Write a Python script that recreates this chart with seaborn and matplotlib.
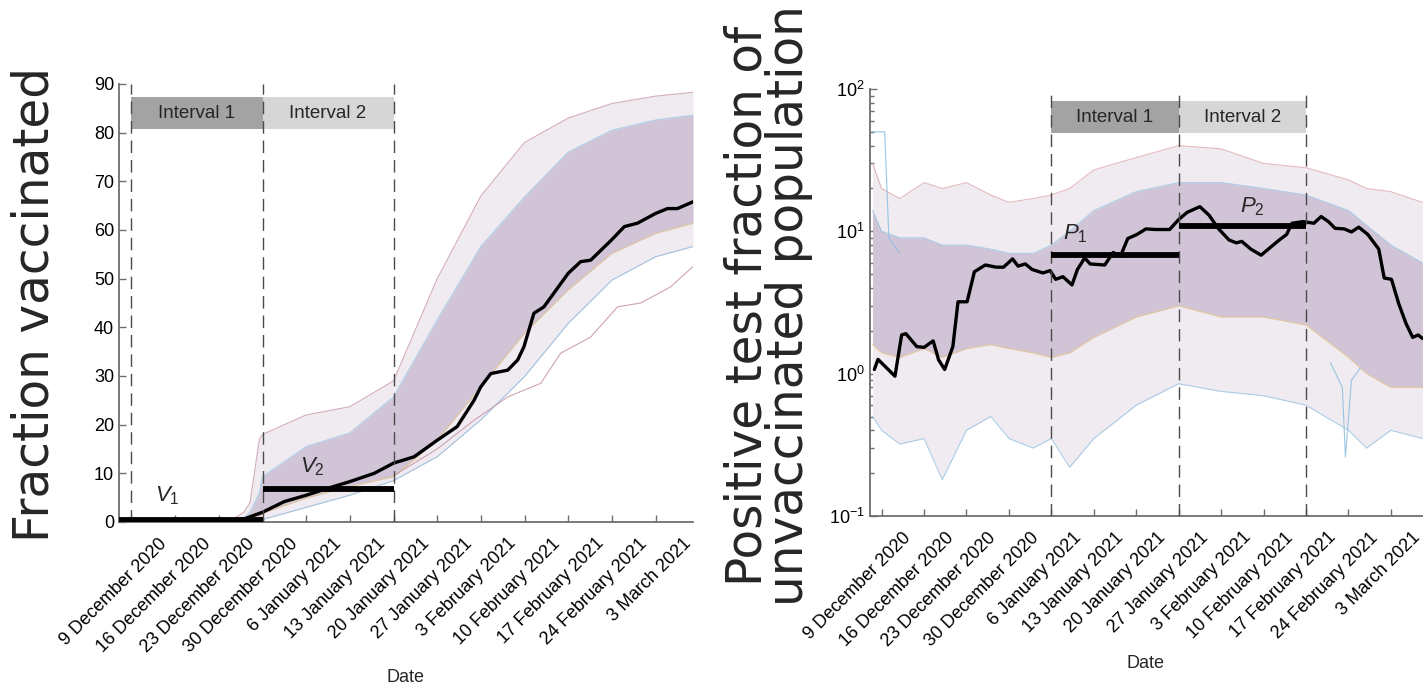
import numpy as np
import pandas as pd
import matplotlib
matplotlib.use("Agg")
import matplotlib.pyplot as plt
import matplotlib.transforms as mtransforms
from matplotlib.patches import Rectangle
from matplotlib.ticker import LogLocator, LogFormatterMathtext, NullFormatter
import seaborn as sns

# ------------------------------------------------------------------ data
# x positions are days since 7 December 2020
tick_days = [2, 9, 16, 23, 30, 37, 44, 51, 58, 65, 72, 79, 86]
tick_labels = ["9 December 2020", "16 December 2020", "23 December 2020",
               "30 December 2020", "6 January 2021", "13 January 2021",
               "20 January 2021", "27 January 2021", "3 February 2021",
               "10 February 2021", "17 February 2021", "24 February 2021",
               "3 March 2021"]

# --- left panel: fraction vaccinated
vacc_days = [0, 10, 17, 20, 23, 26.5, 30, 33.4, 37, 40.9, 44, 47.3, 51, 54.2,
             56.9, 58, 59.6, 62.3, 63.9, 64.9, 66.5, 68.1, 72, 74, 75.6, 78.9,
             81, 83.1, 86, 87.9, 89.5, 92]
vacc_black = [0.1, 0.15, 0.3, 0.6, 2.0, 4.2, 5.5, 6.9, 8.3, 10.0, 12.1, 13.4,
              16.8, 19.6, 25.0, 27.8, 30.5, 31.2, 33.3, 36.0, 42.9, 44.2, 51.1,
              53.5, 53.8, 57.9, 60.7, 61.4, 63.4, 64.4, 64.4, 65.8]
vacc_env_days = [0, 18, 20, 21, 22.5, 23, 30, 37, 44, 51, 58, 65, 72, 79, 86, 92]
vacc_outer_upper = [0, 0.4, 2, 4, 17, 18, 22, 23.7, 29, 50, 67, 78, 83, 86, 87.5, 88.3]
vacc_dense_upper = [0, 0.3, 0.8, 2, 6, 9.3, 15.5, 18.3, 25.7, 41.5, 56.6, 66.8,
                    76, 80.5, 82.6, 83.6]
vacc_dense_lower = [0, 0, 0, 0, 0.8, 1.8, 4.9, 7.3, 9.3, 16.8, 27.8, 38.8, 47.7,
                    55.2, 59.3, 61.4]
vacc_outer_lower = [0, 0, 0, 0, 0.2, 0.5, 3, 5.5, 8.5, 13.4, 21, 29.9, 40.8,
                    49.7, 54.5, 56.6]
vacc_low_days = [44, 51, 57, 62.3, 67.6, 70.8, 75.6, 79.9, 83.6, 88.4, 92]
vacc_low_line = [9.5, 15, 21, 25.7, 28.5, 34.7, 38, 44.2, 45, 48.3, 52.5]
V1, V2 = 0.4, 6.7

# --- right panel: positive test fraction of unvaccinated population
pos_days = [0.8, 1.4, 4.2, 5.3, 6.0, 7.8, 9.0, 10.5, 11.4, 12.4, 13.75, 14.6,
            16.1, 17.3, 19.1, 20.9, 22.1, 23.6, 24.5, 25.7, 26.8, 28.6, 29.8,
            30.7, 31.9, 33.4, 34.3, 35.5, 36.4, 38.8, 40.2, 41.4, 42.6, 44.1,
            45.6, 47.1, 49.5, 51.0, 52.4, 54.5, 56.0, 57.5, 59.3, 60.5, 61.4,
            62.9, 64.6, 66.1, 67.6, 68.8, 69.7, 71.5, 73.3, 74.5, 75.7, 76.8,
            78.3, 79.5, 80.7, 82.2, 84.0, 84.9, 86.1, 87.3, 88.5, 89.6, 90.5, 91.2]
pos_black = [1.07, 1.26, 0.96, 1.87, 1.91, 1.55, 1.53, 1.70, 1.25, 1.07, 1.55,
             3.2, 3.2, 5.2, 5.8, 5.6, 5.6, 6.4, 5.7, 5.9, 5.4, 5.1, 5.3, 4.6,
             4.8, 4.2, 5.4, 6.5, 5.9, 5.8, 7.1, 6.7, 8.9, 9.5, 10.4, 10.3, 10.3,
             12.1, 13.6, 14.9, 13.0, 10.5, 8.7, 8.3, 8.5, 7.5, 6.8, 7.7, 8.7,
             9.5, 11.4, 11.7, 11.4, 12.7, 11.7, 10.5, 10.4, 9.9, 10.7, 9.5, 7.5,
             4.7, 4.6, 3.1, 2.25, 1.8, 1.87, 1.77]
pos_env_days = [0.5, 2, 5, 9, 12, 16, 20, 23, 27, 30, 33, 37, 44, 51, 58, 65,
                72, 79, 82, 86, 91.2]
pos_outer_upper = [30, 20, 17, 22, 20, 22, 18, 16, 17, 18, 20, 27, 33, 40, 38,
                   30, 28, 23, 20, 19, 16]
pos_dense_upper = [14, 10, 9, 9, 8, 8, 7.5, 7, 7, 8, 10, 14, 19, 22, 22, 20,
                   18, 14, 11, 8, 6]
pos_dense_lower = [1.6, 1.4, 1.3, 1.5, 1.3, 1.5, 1.6, 1.5, 1.4, 1.3, 1.4, 1.8,
                   2.5, 3.0, 2.5, 2.5, 2.2, 1.3, 1.0, 0.8, 0.8]
pos_outer_lower = [0.5, 0.4, 0.32, 0.35, 0.18, 0.4, 0.5, 0.35, 0.3, 0.35, 0.22,
                   0.35, 0.6, 0.85, 0.75, 0.7, 0.6, 0.4, 0.3, 0.4, 0.35]
pos_spike_days = [0.5, 2.5, 3.2, 5]
pos_spike_vals = [50, 50, 9, 7]
pos_dip_days = [76, 78, 78.5, 79.5, 81]
pos_dip_vals = [1.2, 0.8, 0.26, 0.9, 1.1]
P1, P2 = 6.8, 10.9

# ------------------------------------------------------------------ style
sns.set_theme(style="ticks")
plt.rcParams["font.family"] = ["Liberation Sans", "DejaVu Sans"]
plt.rcParams["mathtext.fontset"] = "custom"
plt.rcParams["mathtext.rm"] = "Liberation Sans"
plt.rcParams["mathtext.it"] = "Liberation Sans:italic"

spine_col = "#6e6e6e"
outer_col = "#f0ebf1"
dense_col = "#d0c4d6"

fig = plt.figure(figsize=(14.23, 6.88), dpi=100)
ax1 = fig.add_axes([119 / 1423, (688 - 522) / 688, (693 - 119) / 1423, (522 - 84) / 688])
ax2 = fig.add_axes([869.5 / 1423, (688 - 516) / 688, (1423 - 869.5) / 1423, (516 - 89) / 688])


def style_axis(ax, xoff):
    sns.despine(ax=ax)
    for s in ("left", "bottom"):
        ax.spines[s].set_color(spine_col)
        ax.spines[s].set_linewidth(1.3)
    ax.tick_params(axis="both", which="major", direction="in", length=5,
                   width=1, color=spine_col, labelsize=13, labelcolor="black")
    ax.tick_params(axis="both", which="minor", direction="in", length=3,
                   width=1, color=spine_col)
    ax.set_xticks(tick_days)
    ax.set_xticklabels(tick_labels, rotation=45, ha="right", va="center",
                       rotation_mode="anchor")
    ax.tick_params(axis="x", pad=0)
    off = mtransforms.ScaledTranslation(xoff, -0.19, fig.dpi_scale_trans)
    for lab in ax.get_xticklabels():
        lab.set_transform(lab.get_transform() + off)
    ax.set_xlabel("")
    ax.set_ylabel("")


# ------------------------------------------------------------------ left panel
ax1.fill_between(vacc_env_days, vacc_outer_lower, vacc_outer_upper,
                 color=outer_col, lw=0)
ax1.fill_between(vacc_env_days, vacc_dense_lower, vacc_dense_upper,
                 color=dense_col, lw=0)
sns.lineplot(x=vacc_env_days, y=vacc_outer_upper, ax=ax1, color="#c89aaa",
             lw=0.8, alpha=0.8)
sns.lineplot(x=vacc_env_days, y=vacc_dense_upper, ax=ax1, color="#9cc6e4",
             lw=0.8, alpha=0.8)
sns.lineplot(x=vacc_env_days, y=vacc_dense_lower, ax=ax1, color="#e8c890",
             lw=0.8, alpha=0.8)
sns.lineplot(x=vacc_env_days, y=vacc_outer_lower, ax=ax1, color="#8fb8d8",
             lw=0.8, alpha=0.8)
sns.lineplot(x=vacc_low_days, y=vacc_low_line, ax=ax1, color="#c89aaa",
             lw=0.8, alpha=0.9)
sns.lineplot(x=vacc_days, y=vacc_black, ax=ax1, color="black", lw=2.4)

for d in (2, 23, 44):
    ax1.axvline(d, color="#4a4a4a", lw=1.0, dashes=(9, 5), zorder=4)
ax1.add_patch(Rectangle((2, 80.75), 21, 6.55, color="#a3a3a3", lw=0, zorder=3))
ax1.add_patch(Rectangle((23, 80.75), 21, 6.55, color="#d6d6d6", lw=0, zorder=3))
ax1.text(12.5, 84.0, "Interval 1", ha="center", va="center", fontsize=13.5, zorder=5)
ax1.text(33.5, 84.0, "Interval 2", ha="center", va="center", fontsize=13.5, zorder=5)
ax1.plot([0, 23], [V1, V1], color="black", lw=4.2, solid_capstyle="butt", zorder=5)
ax1.plot([23, 44], [V2, V2], color="black", lw=4.2, solid_capstyle="butt", zorder=5)
ax1.text(7.8, 5.4, r"$V_{\mathit{1}}$", ha="center", va="center", fontsize=16)
ax1.text(31.0, 11.4, r"$V_{\mathit{2}}$", ha="center", va="center", fontsize=16)

ax1.set_xlim(0, 92)
ax1.set_ylim(0, 90)
ax1.set_yticks(range(0, 91, 10))
style_axis(ax1, 0.33)

# ------------------------------------------------------------------ right panel
ax2.set_yscale("log")
ax2.fill_between(pos_env_days, pos_outer_lower, pos_outer_upper,
                 color=outer_col, lw=0)
ax2.fill_between(pos_env_days, pos_dense_lower, pos_dense_upper,
                 color=dense_col, lw=0)
sns.lineplot(x=pos_env_days, y=pos_outer_upper, ax=ax2, color="#d9a0a8",
             lw=0.8, alpha=0.7)
sns.lineplot(x=pos_env_days, y=pos_dense_upper, ax=ax2, color="#9cc6e4",
             lw=0.8, alpha=0.8)
sns.lineplot(x=pos_env_days, y=pos_dense_lower, ax=ax2, color="#e8c890",
             lw=0.8, alpha=0.8)
sns.lineplot(x=pos_env_days, y=pos_outer_lower, ax=ax2, color="#8fc0e0",
             lw=0.8, alpha=0.7)
sns.lineplot(x=pos_spike_days, y=pos_spike_vals, ax=ax2, color="#8fc0e0",
             lw=0.8, alpha=0.9)
sns.lineplot(x=pos_dip_days, y=pos_dip_vals, ax=ax2, color="#8fc0e0",
             lw=0.8, alpha=0.9)
sns.lineplot(x=pos_days, y=pos_black, ax=ax2, color="black", lw=2.4)

for d in (30, 51, 72):
    ax2.axvline(d, color="#4a4a4a", lw=1.0, dashes=(9, 5), zorder=4)
ax2.add_patch(Rectangle((30, 49.1), 21, 82.4 - 49.1, color="#a3a3a3", lw=0, zorder=3))
ax2.add_patch(Rectangle((51, 49.1), 21, 82.4 - 49.1, color="#d6d6d6", lw=0, zorder=3))
ax2.text(40.5, 63.5, "Interval 1", ha="center", va="center", fontsize=13.5, zorder=5)
ax2.text(61.5, 63.5, "Interval 2", ha="center", va="center", fontsize=13.5, zorder=5)
ax2.plot([30, 51], [P1, P1], color="black", lw=4.2, solid_capstyle="butt", zorder=5)
ax2.plot([51, 72], [P2, P2], color="black", lw=4.2, solid_capstyle="butt", zorder=5)
ax2.text(34.0, 9.6, r"$P_{\mathit{1}}$", ha="center", va="center", fontsize=16)
ax2.text(63.2, 14.9, r"$P_{\mathit{2}}$", ha="center", va="center", fontsize=16)

ax2.set_xlim(0, 91.3)
ax2.set_ylim(0.1, 100)
ax2.yaxis.set_major_locator(LogLocator(base=10, numticks=10))
ax2.yaxis.set_major_formatter(LogFormatterMathtext())
ax2.yaxis.set_minor_locator(LogLocator(base=10, subs=np.arange(2, 10), numticks=20))
ax2.yaxis.set_minor_formatter(NullFormatter())
style_axis(ax2, 0.27)

# ------------------------------------------------------------------ labels
fig.text(35 / 1423, 1 - 304 / 688, "Fraction vaccinated", rotation=90,
         ha="center", va="center", fontsize=35, family=["DejaVu Sans"])
fig.text(768 / 1423, 1 - 306 / 688,
         "Positive test fraction of\nunvaccinated population", rotation=90,
         ha="center", va="center", fontsize=35, linespacing=0.82,
         family=["DejaVu Sans"])
fig.text(405 / 1423, 1 - 678 / 688, "Date", ha="center", va="center", fontsize=13)
fig.text(1146 / 1423, 1 - 663 / 688, "Date", ha="center", va="center", fontsize=13)

fig.savefig("out.png", dpi=100)
